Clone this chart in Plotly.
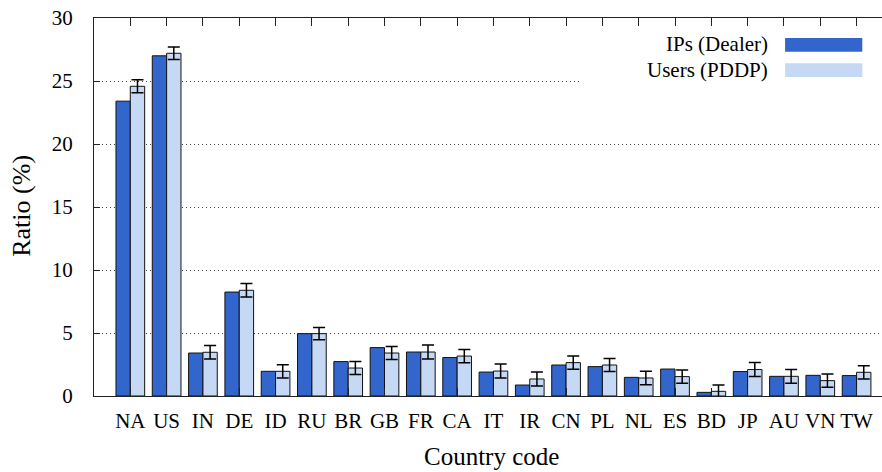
import plotly.graph_objects as go

countries = ["NA", "US", "IN", "DE", "ID", "RU", "BR", "GB", "FR", "CA", "IT",
             "IR", "CN", "PL", "NL", "ES", "BD", "JP", "AU", "VN", "TW"]
ips_dealer = [23.4, 27.0, 3.41, 8.25, 1.96, 4.95, 2.73, 3.84, 3.49, 3.05, 1.90,
              0.87, 2.46, 2.33, 1.48, 2.14, 0.29, 1.94, 1.56, 1.64, 1.62]
users_pddp = [24.58, 27.2, 3.47, 8.39, 1.96, 4.95, 2.22, 3.41, 3.49, 3.17, 1.98,
              1.35, 2.65, 2.46, 1.43, 1.54, 0.37, 2.10, 1.56, 1.22, 1.88]
users_err = [0.52, 0.5, 0.53, 0.53, 0.53, 0.48, 0.51, 0.51, 0.56, 0.53, 0.56,
             0.55, 0.52, 0.51, 0.53, 0.52, 0.5, 0.55, 0.54, 0.53, 0.53]
series_names = ["IPs (Dealer)", "Users (PDDP)"]
y_ticks = [0, 5, 10, 15, 20, 25, 30]
x_title = "Country code"
y_title = "Ratio (%)"

DARK = "#3366CC"
LIGHT = "#C6D9F4"
FONT = "Liberation Serif"

fig = go.Figure()
fig.add_trace(go.Bar(
    x=countries, y=ips_dealer, name=series_names[0],
    marker=dict(color=DARK, line=dict(color="#111111", width=1)),
))
fig.add_trace(go.Bar(
    x=countries, y=users_pddp, name=series_names[1],
    marker=dict(color=LIGHT, line=dict(color="#111111", width=1)),
    error_y=dict(type="data", array=users_err, visible=True,
                 color="#000000", thickness=1.5, width=6),
))

# Manual legend (text left, swatch right, as in reference)
shapes = [
    dict(type="rect", xref="paper", yref="paper", x0=0.618, x1=1.0, y0=0.815, y1=0.976,
         fillcolor="white", line=dict(width=0), layer="above"),
    dict(type="rect", xref="paper", yref="paper", x0=0.877, x1=0.975, y0=0.911, y1=0.947,
         fillcolor=DARK, line=dict(width=0), layer="above"),
    dict(type="rect", xref="paper", yref="paper", x0=0.877, x1=0.975, y0=0.844, y1=0.880,
         fillcolor=LIGHT, line=dict(width=0), layer="above"),
]
annotations = [
    dict(text=series_names[0], xref="paper", yref="paper", x=0.858, y=0.931,
         xanchor="right", yanchor="middle", showarrow=False,
         font=dict(family=FONT, size=21, color="black")),
    dict(text=series_names[1], xref="paper", yref="paper", x=0.858, y=0.862,
         xanchor="right", yanchor="middle", showarrow=False,
         font=dict(family=FONT, size=21, color="black")),
    # axis titles
    dict(text=y_title, xref="paper", yref="paper", x=-0.0915, y=0.503,
         xanchor="center", yanchor="middle", textangle=-90, showarrow=False,
         font=dict(family=FONT, size=26, color="black")),
    dict(text=x_title, xref="paper", yref="paper", x=0.505, y=-0.161,
         xanchor="center", yanchor="middle", showarrow=False,
         font=dict(family=FONT, size=25, color="black")),
]

fig.update_layout(
    width=882, height=472,
    margin=dict(l=94, r=0, t=18, b=76),
    paper_bgcolor="white", plot_bgcolor="white",
    barmode="group", bargap=0.21, bargroupgap=0.0,
    showlegend=False,
    font=dict(family=FONT, size=21, color="black"),
    shapes=shapes, annotations=annotations,
    xaxis=dict(
        type="category", range=[-1, 20.7], automargin=False,
        showline=True, linecolor="#222222", linewidth=1, mirror="ticks",
        ticks="inside", ticklen=8, tickcolor="#222222",
        showgrid=False, zeroline=False,
        tickfont=dict(family=FONT, size=21, color="black"),
        ticklabelstandoff=6,
    ),
    yaxis=dict(
        range=[0, 30], tickvals=y_ticks, automargin=False,
        showline=True, linecolor="#222222", linewidth=1, mirror=False,
        ticks="inside", ticklen=6, tickcolor="#222222",
        showgrid=True, gridcolor="#444444", griddash="1px,3px", gridwidth=1,
        zeroline=False,
        tickfont=dict(family=FONT, size=21, color="black"),
        ticklabelstandoff=16, ticklabeloverflow="allow",
    ),
)

fig.write_html("out.html",
               config={"displayModeBar": False, "staticPlot": True},
               post_script="document.body.style.margin='0';document.body.style.overflow='hidden';")
